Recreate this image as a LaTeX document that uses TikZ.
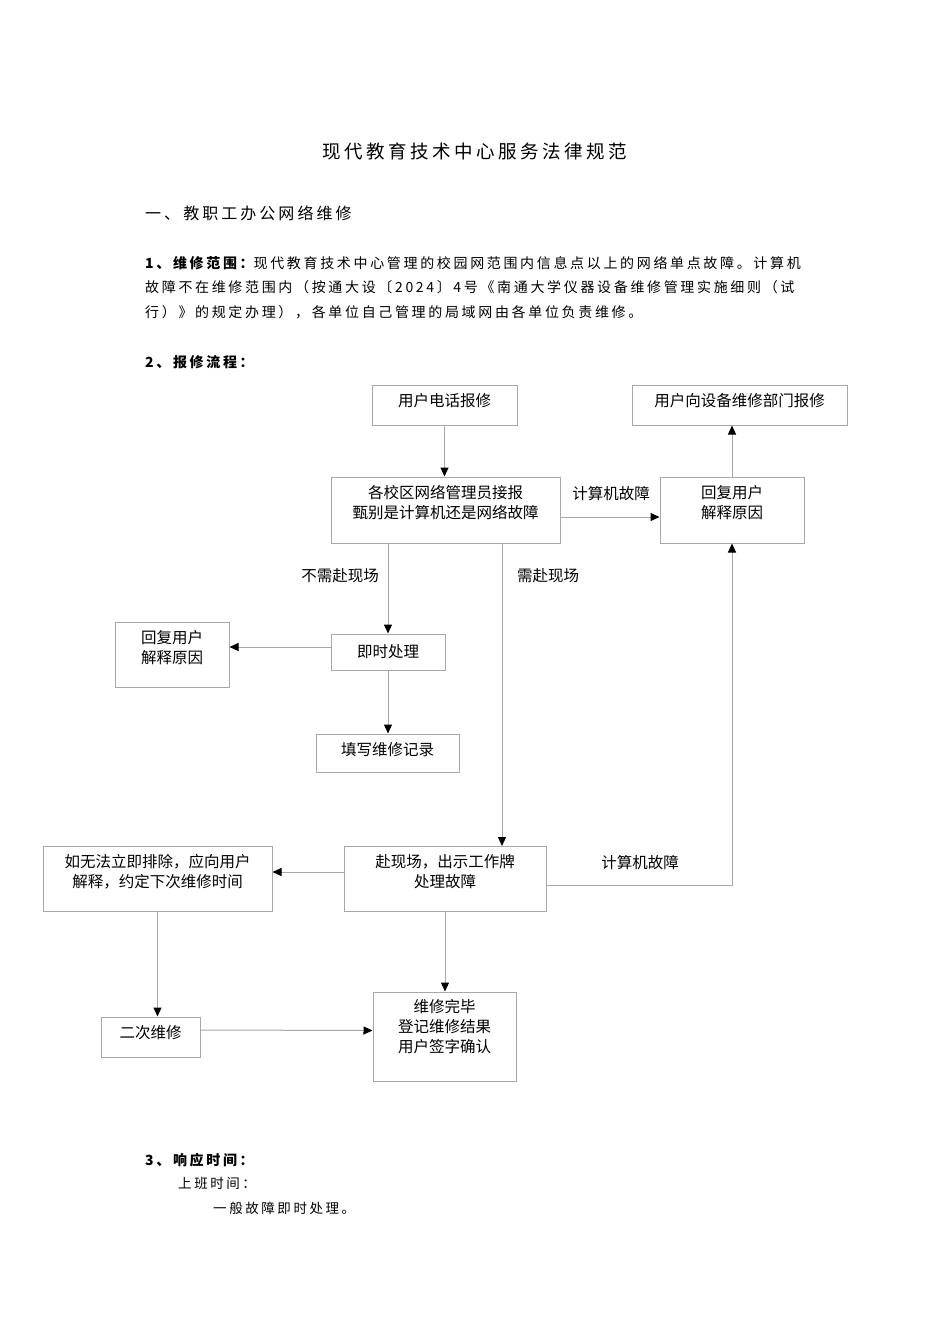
\documentclass[tikz,border=0pt]{standalone}
\usepackage{fontspec}
\setmainfont{Noto Sans CJK SC}[LetterSpace=19]
\newfontfamily\boxfont{Noto Sans CJK SC}
\usepackage{tikz}
\usetikzlibrary{arrows.meta,calc,positioning}
\definecolor{linegray}{HTML}{A8A8A8}
\tikzstyle{box}  =[draw=linegray, line width=1pt, inner sep=0pt,
                   align=center, text depth=2pt,
                   font=\boxfont\fontsize{15.5}{20}\selectfont]
\tikzstyle{up}   =[text depth=#1]
\tikzstyle{link} =[draw=linegray, line width=1pt,
                   -{Triangle[color=black, length=9pt, width=8pt]}]
\tikzstyle{note} =[inner sep=0pt,
                   font=\boxfont\fontsize{15.5}{20}\selectfont]
\tikzstyle{txt}  =[inner sep=0pt, anchor=west,
                   font=\fontsize{14}{18}\selectfont]

\begin{document}
\begin{tikzpicture}[x=1pt, y=-1pt]
    \useasboundingbox (0,0) rectangle (950,1344);

    % page text
    \node[inner sep=0pt, font=\fontsize{18.5}{22}\selectfont] (title) at (475,151) {现代教育技术中心服务法律规范};
    \node[txt, font=\fontsize{16}{20}\selectfont] (head) at (145,213) {一、教职工办公网络维修};
    \node[txt] (par1) at (145,263) {{\bfseries 1、维修范围：}现代教育技术中心管理的校园网范围内信息点以上的网络单点故障。计算机};
    \node[txt] (par2) at (145,287) {故障不在维修范围内（按通大设〔2024〕4号《南通大学仪器设备维修管理实施细则（试};
    \node[txt] (par3) at (145,312) {行）》的规定办理），各单位自己管理的局域网由各单位负责维修。};
    \node[txt] (flow) at (145,362) {\bfseries 2、报修流程：};

    % flow boxes
    \node[box, minimum width=145, minimum height=40, up=10pt] (b_call) at (444.5,405) {用户电话报修};
    \node[box, minimum width=215, minimum height=40, up=10pt] (b_dept) at (739.5,405) {用户向设备维修部门报修};
    \node[box, minimum width=229, minimum height=66, up=16pt] (b_admin) at (445.5,510) {各校区网络管理员接报\\甄别是计算机还是网络故障};
    \node[box, minimum width=144, minimum height=66, up=16pt] (b_reply) at (732,510) {回复用户\\解释原因};
    \node[box, minimum width=114, minimum height=36] (b_now) at (388,652) {即时处理};
    \node[box, minimum width=114, minimum height=65, up=15pt] (b_replyL) at (172,654.5) {回复用户\\解释原因};
    \node[box, minimum width=143, minimum height=38, up=8pt] (b_record) at (387.5,753) {填写维修记录};
    \node[box, minimum width=202, minimum height=65, up=15pt] (b_site) at (445,878.5) {赴现场，出示工作牌\\处理故障};
    \node[box, minimum width=229, minimum height=65, up=15pt] (b_explain) at (157.5,878.5) {如无法立即排除，应向用户\\解释，约定下次维修时间};
    \node[box, minimum width=99, minimum height=40, up=10pt] (b_second) at (150.5,1037) {二次维修};
    \node[box, minimum width=143, minimum height=89, up=21pt] (b_done) at (444.5,1036.5) {维修完毕\\登记维修结果\\用户签字确认};
    \coordinate (site_in) at (502,846);

    % connector labels
    \node[note] (l_pc1) at (611,494) {计算机故障};
    \node[note] (l_nogo) at (340,576) {不需赴现场};
    \node[note] (l_go) at (548,576) {需赴现场};
    \node[note] (l_pc2) at (640,863) {计算机故障};

    % connectors
    \draw[link] (b_call.south) -- (b_call.south |- b_admin.north);
    \draw[link] ($(b_admin.east)+(0,7)$) -- ($(b_reply.west)+(0,7)$);
    \draw[link] (b_reply.north) -- (b_reply.north |- b_dept.south);
    \draw[link] (b_now.north |- b_admin.south) -- (b_now.north);
    \draw[link] (site_in |- b_admin.south) -- (site_in);
    \draw[link] ($(b_now.west)+(0,-5)$) -- ($(b_replyL.east)+(0,-7.5)$);
    \draw[link] (b_now.south) -- (b_now.south |- b_record.north);
    \draw[link] ($(b_site.west)+(0,-6.5)$) -- ($(b_explain.east)+(0,-6.5)$);
    \draw[link] ($(b_site.east)+(0,6.5)$) -| (b_reply.south);
    \draw[link] (b_explain.south) -- (b_explain.south |- b_second.north);
    \draw[link] (b_site.south) -- (b_site.south |- b_done.north);
    \draw[link] ($(b_second.east)+(0,-7)$) -- ($(b_second.east -| b_done.west)+(0,-6.5)$);

    % response time
    \node[txt] (resp) at (145,1160) {\bfseries 3、响应时间：};
    \node[txt, font=\fontsize{13.5}{18}\selectfont] (work) at (178,1183) {上班时间：};
    \node[txt, font=\fontsize{13.5}{18}\selectfont] (fix) at (213,1208) {一般故障即时处理。};
\end{tikzpicture}
\end{document}
